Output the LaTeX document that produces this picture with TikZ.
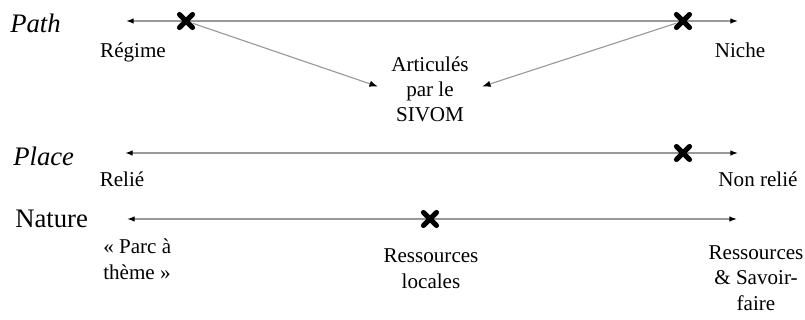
\documentclass[tikz,border=0pt]{standalone}
\usepackage{fontspec}
\setmainfont{Liberation Serif}
\usetikzlibrary{arrows.meta,shapes.misc}

\tikzset{
  axis/.style={draw=gray!80, line width=1pt,
    {Latex[black,length=5.5pt,width=4pt]}-{Latex[black,length=5.5pt,width=4pt]}},
  link/.style={draw=gray!80, line width=0.8pt, -{Latex[black,length=6pt,width=4.5pt]}},
  xmark/.style={cross out, draw=black, line width=3.6pt, line cap=round,
    minimum size=0.2cm, inner sep=0pt},
  dimension/.style={font=\fontsize{19}{23}\selectfont, anchor=base west, inner sep=0pt},
  % base of a multi-line pole sits on its last line
  pole/.style={font=\fontsize{15}{18}\selectfont, anchor=base, inner sep=0pt, align=center},
}

\begin{document}
\begin{tikzpicture}
\useasboundingbox (0,0) rectangle (20.125,-8);

% Path
\node[dimension] (path) at (0.25,-0.825) {\itshape Path};
\coordinate (pathL) at (3.15,-0.525);
\coordinate (pathR) at (18.45,-0.525);
\draw[axis] (pathL) -- (pathR);
\node[pole] (regime) at (3.325,-1.45) {Régime};
\node[pole] (niche) at (18.5,-1.45) {Niche};
\node[pole, inner xsep=0.33cm] (sivom) at (10.75,-3.05) {Articulés\\par le\\SIVOM};
\node[xmark] (xregime) at (4.65,-0.525) {};
\node[xmark] (xniche) at (17.075,-0.525) {};
\draw[link] (xregime) -- ([yshift=0.075cm]sivom.west);
\draw[link] (xniche) -- ([yshift=0.075cm]sivom.east);

% Place
\node[dimension] (place) at (0.325,-4.125) {\itshape Place};
\coordinate (placeL) at (3.125,-3.825);
\coordinate (placeR) at (18.45,-3.825);
\draw[axis] (placeL) -- (placeR);
\node[pole] (relie) at (3.05,-4.675) {Relié};
\node[pole] (nonrelie) at (18.95,-4.675) {Non relié};
\node[xmark] (xplace) at (17.075,-3.825) {};

% Nature
\node[dimension] (nature) at (0.375,-5.675) {Nature};
\coordinate (natureL) at (3.175,-5.475);
\coordinate (natureR) at (18.425,-5.475);
\draw[axis] (natureL) -- (natureR);
\node[pole, anchor=base west, align=left] (parc) at (2.575,-6.975) {« Parc à\\thème »};
\node[pole] (locales) at (10.775,-7.2) {Ressources\\locales};
\node[pole] (savoir) at (18.9,-7.75) {Ressources\\\& Savoir-\\faire};
\node[xmark] (xnature) at (10.75,-5.475) {};
\end{tikzpicture}
\end{document}
